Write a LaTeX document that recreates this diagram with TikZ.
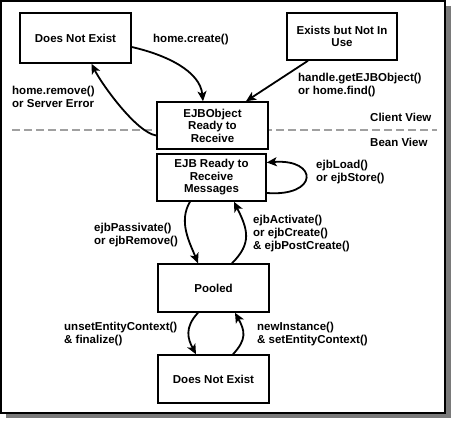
\documentclass[tikz,border=0pt]{standalone}
\usepackage{fontspec}
\setmainfont{Liberation Sans}
\usepackage{xcolor}
\usepackage{tikz}
\usetikzlibrary{arrows.meta}
\definecolor{shadowgr}{HTML}{7A7A7A}
\definecolor{sepgr}{HTML}{A0A0A0}

\begin{document}
\begin{tikzpicture}[x=1pt,y=-1pt,
  font=\fontsize{11.5}{13}\selectfont\bfseries,
  statebox/.style={draw,line width=1.5pt,fill=white,align=center,inner sep=0pt,
    minimum width=111pt,minimum height=48pt,font=\fontsize{11.5}{12.5}\selectfont\bfseries},
  lbl/.style={anchor=west,align=left,inner sep=0pt},
  arr/.style={line width=1.8pt,-{Stealth[length=10pt,width=9pt,inset=2.5pt]}}]
\useasboundingbox (0,0) rectangle (452,420);
% frame with shadow
\fill[shadowgr] (6,6) rectangle (451,418);
\draw[line width=1.6pt,fill=white] (1,1) rectangle (445,413);
\draw[sepgr,line width=1.3pt,dash pattern=on 8pt off 4pt] (12,130) -- (437,130);
\node[lbl] (client) at (370,117) {Client View};
\node[lbl] (bean) at (370,142) {Bean View};

% states
\node[statebox,minimum height=50pt] (dnetop) at (75.5,38) {Does Not Exist};
\node[statebox,minimum width=110pt,minimum height=47pt] (exists) at (342,36.5) {Exists but Not In\\Use};
\node[statebox,minimum height=47pt] (obj) at (212.5,125.5) {EJBObject\\Ready to\\Receive};
\node[statebox,minimum width=109pt,minimum height=47pt] (ready) at (211.5,177.5) {EJB Ready to\\Receive\\Messages};
\node[statebox] (pooled) at (213.5,288) {Pooled};
\node[statebox] (dnebot) at (213.5,379) {Does Not Exist};

% labels
\node[lbl] (lcreate) at (153,40) {home.create()};
\node[lbl] (lremove) at (12,96.5) {home.remove()\\or Server Error};
\node[lbl] (lhandle) at (298,85.5) {handle.getEJBObject()\\or home.find()};
\node[lbl] (lload) at (316,172) {ejbLoad()\\or ejbStore()};
\node[lbl] (lpass) at (94,235) {ejbPassivate()\\or ejbRemove()};
\node[lbl] (lact) at (253,233.5) {ejbActivate()\\or ejbCreate()\\\& ejbPostCreate()};
\node[lbl] (lunset) at (64,334) {unsetEntityContext()\\\& finalize()};
\node[lbl] (lnew) at (257,334) {newInstance()\\\& setEntityContext()};

% transitions
\draw[arr] ([yshift=-9pt]dnetop.east) .. controls +(35,8) and +(-3,-30) .. ([xshift=-9.5pt]obj.north);
\draw[arr] ([yshift=-10pt]obj.west) .. controls +(-20,-3) and +(10,20) .. ([xshift=16pt]dnetop.south);
\draw[arr] ([xshift=-34pt]exists.south) -- ([xshift=33.5pt]obj.north);
\draw[arr] ([yshift=-15.5pt]ready.east) .. controls +(52,4) and +(52,-4) .. ([yshift=15pt]ready.east);
\draw[arr] ([xshift=-21.5pt]ready.south) .. controls +(-12,20) and +(-8,-20) .. ([xshift=-15.5pt]pooled.north);
\draw[arr] ([xshift=18.5pt]pooled.north) .. controls +(20,-20) and +(14,28) .. ([xshift=22.5pt]ready.south);
\draw[arr] ([xshift=-15.5pt]pooled.south) .. controls +(-14,15) and +(-8,-15) .. ([xshift=-17.5pt]dnebot.north);
\draw[arr] ([xshift=19.5pt]dnebot.north) .. controls +(14,-15) and +(10,18) .. ([xshift=21.5pt]pooled.south);
\end{tikzpicture}
\end{document}
